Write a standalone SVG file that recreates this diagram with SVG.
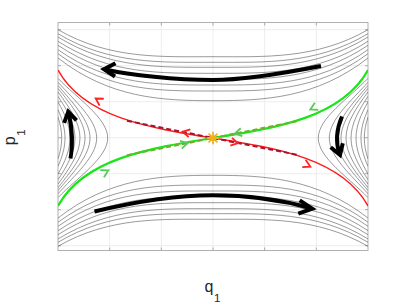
<svg xmlns="http://www.w3.org/2000/svg" xmlns:xlink="http://www.w3.org/1999/xlink" width="407" height="305" viewBox="0 0 407 305">
<style>
.grid{stroke:#e6e6e6;stroke-width:0.7;fill:none}
.tick{stroke:#9a9a9a;stroke-width:0.8;fill:none}
.frame{stroke:#a8a8a8;stroke-width:0.9;fill:none}
.cont path{stroke:#555;stroke-width:0.6;fill:none}
.sep{fill:none}
.red{stroke:#ff1a1a;stroke-width:1.5}
.green{stroke:#19e619;stroke-width:2.2}
.dred{stroke:#a2142f;stroke-width:2;stroke-dasharray:5,3;fill:none}
.dgreen{stroke:#77ac30;stroke-width:2;stroke-dasharray:5,3;fill:none}
.chr{stroke:#ff2020;stroke-width:1.8;fill:none;stroke-linejoin:miter}
.chg{stroke:#55cc55;stroke-width:1.8;fill:none;stroke-linejoin:miter}
.big{stroke:#000;stroke-width:4;fill:none;stroke-linejoin:miter}
.lbl{font-family:"Liberation Sans",Arial,sans-serif;fill:#262626}
</style>
<defs>
<path id="chev" d="M-7,-4 L0,0 L-7,4"/>
<clipPath id="box"><rect x="58" y="22.5" width="310" height="228"/></clipPath>
</defs>
<rect width="407" height="305" fill="#fff"/>
<g id="axes">
<path class="grid" d="M109.67,22.5V250.5M161.33,22.5V250.5M213,22.5V250.5M264.67,22.5V250.5M316.33,22.5V250.5M58,29.7H368M58,65.7H368M58,101.7H368M58,137.7H368M58,173.7H368M58,209.7H368M58,245.7H368"/>
<path class="tick" d="M109.67,250.5v-3M161.33,250.5v-3M213,250.5v-3M264.67,250.5v-3M316.33,250.5v-3M109.67,22.5v3M161.33,22.5v3M213,22.5v3M264.67,22.5v3M316.33,22.5v3M58,29.7h3M58,65.7h3M58,101.7h3M58,137.7h3M58,173.7h3M58,209.7h3M58,245.7h3M368,29.7h-3M368,65.7h-3M368,101.7h-3M368,137.7h-3M368,173.7h-3M368,209.7h-3M368,245.7h-3"/>
<rect class="frame" x="58" y="22.5" width="310" height="228"/>
</g>
<g id="contours" class="cont" clip-path="url(#box)">
<path d="M58,29.7 C109.67,59.4 161.33,56.7 213,56.7 C264.67,56.7 316.33,59.4 368,29.7"/>
<path d="M58,33.7 C109.67,64.6 161.33,62.3 213,62.3 C264.67,62.3 316.33,64.6 368,33.7"/>
<path d="M58,37 C109.67,68.9 161.33,67.3 213,67.3 C264.67,67.3 316.33,68.9 368,37"/>
<path d="M58,41.3 C109.67,74.6 161.33,73.3 213,73.3 C264.67,73.3 316.33,74.6 368,41.3"/>
<path d="M58,45.3 C109.67,80 161.33,79.5 213,79.5 C264.67,79.5 316.33,80 368,45.3"/>
<path d="M58,49.7 C109.67,86.2 161.33,85 213,85 C264.67,85 316.33,86.2 368,49.7"/>
<path d="M58,53.7 C109.67,91.9 161.33,91 213,91 C264.67,91 316.33,91.9 368,53.7"/>
<path d="M58,58 C109.67,98.2 161.33,100.7 213,100.7 C264.67,100.7 316.33,98.2 368,58"/>
<path d="M58,246.3 C109.67,216.6 161.33,219.3 213,219.3 C264.67,219.3 316.33,216.6 368,246.3"/>
<path d="M58,242.3 C109.67,211.4 161.33,213.7 213,213.7 C264.67,213.7 316.33,211.4 368,242.3"/>
<path d="M58,239 C109.67,207.1 161.33,208.7 213,208.7 C264.67,208.7 316.33,207.1 368,239"/>
<path d="M58,234.7 C109.67,201.4 161.33,202.7 213,202.7 C264.67,202.7 316.33,201.4 368,234.7"/>
<path d="M58,230.7 C109.67,196 161.33,196.5 213,196.5 C264.67,196.5 316.33,196 368,230.7"/>
<path d="M58,226.3 C109.67,189.8 161.33,191 213,191 C264.67,191 316.33,189.8 368,226.3"/>
<path d="M58,222.3 C109.67,184.1 161.33,185 213,185 C264.67,185 316.33,184.1 368,222.3"/>
<path d="M58,218 C109.67,177.8 161.33,175.3 213,175.3 C264.67,175.3 316.33,177.8 368,218"/>
<path d="M58,78.36 C77.03,98.24 107.7,118.12 107.7,138 C107.7,157.88 77.03,177.76 58,197.64"/>
<path d="M58,82.22 C74.65,100.81 96.7,119.41 96.7,138 C96.7,156.59 74.65,175.19 58,193.78"/>
<path d="M58,85.41 C72.8,102.94 90,120.47 90,138 C90,155.53 72.8,173.06 58,190.59"/>
<path d="M58,88.34 C71.19,104.89 85,121.45 85,138 C85,154.55 71.19,171.11 58,187.66"/>
<path d="M58,91.9 C69.37,107.27 80,122.63 80,138 C80,153.37 69.37,168.73 58,184.1"/>
<path d="M58,96.31 C67.3,110.21 75,124.1 75,138 C75,151.9 67.3,165.79 58,179.69"/>
<path d="M58,101.97 C64.94,113.98 70,125.99 70,138 C70,150.01 64.94,162.02 58,174.03"/>
<path d="M58,109.68 C62.29,119.12 65,128.56 65,138 C65,147.44 62.29,156.88 58,166.32"/>
<path d="M58,117.05 C60.35,124.03 61.7,131.02 61.7,138 C61.7,144.98 60.35,151.97 58,158.95"/>
<path d="M368,78.36 C348.97,98.24 318.3,118.12 318.3,138 C318.3,157.88 348.97,177.76 368,197.64"/>
<path d="M368,82.22 C351.35,100.81 329.3,119.41 329.3,138 C329.3,156.59 351.35,175.19 368,193.78"/>
<path d="M368,85.41 C353.2,102.94 336,120.47 336,138 C336,155.53 353.2,173.06 368,190.59"/>
<path d="M368,88.34 C354.81,104.89 341,121.45 341,138 C341,154.55 354.81,171.11 368,187.66"/>
<path d="M368,91.9 C356.63,107.27 346,122.63 346,138 C346,153.37 356.63,168.73 368,184.1"/>
<path d="M368,96.31 C358.7,110.21 351,124.1 351,138 C351,151.9 358.7,165.79 368,179.69"/>
<path d="M368,101.97 C361.06,113.98 356,125.99 356,138 C356,150.01 361.06,162.02 368,174.03"/>
<path d="M368,109.68 C363.71,119.12 361,128.56 361,138 C361,147.44 363.71,156.88 368,166.32"/>
<path d="M368,117.05 C365.65,124.03 364.3,131.02 364.3,138 C364.3,144.98 365.65,151.97 368,158.95"/>
</g>
<g id="manifolds" clip-path="url(#box)">
<path id="stable" class="sep green" d="M58,206 C109.67,111.35 316.33,164.65 368,70"/>
<path id="unstable" class="sep red" d="M58,70 C109.67,164.65 316.33,111.35 368,206"/>
<path id="eig-unstable" class="dred" d="M127,120.8 L299.7,155.3"/>
<path id="eig-stable" class="dgreen" d="M127,155.2 L299.7,120.7"/>
</g>
<g id="connectors">
<use xlink:href="#chev" class="chr" transform="translate(95.7,98.5) rotate(211.4)"/>
<use xlink:href="#chev" class="chr" transform="translate(182.7,131.7) rotate(192.8)"/>
<use xlink:href="#chev" class="chr" transform="translate(238,143.2) rotate(12.3)"/>
<use xlink:href="#chev" class="chr" transform="translate(310.3,166.6) rotate(25.7)"/>
<use xlink:href="#chev" class="chg" transform="translate(108.3,170.4) rotate(-27.8)"/>
<use xlink:href="#chev" class="chg" transform="translate(187.7,143.2) rotate(-12.3)"/>
<use xlink:href="#chev" class="chg" transform="translate(234.7,133.6) rotate(167.9)"/>
<use xlink:href="#chev" class="chg" transform="translate(310.3,109.4) rotate(154.3)"/>
<g id="flow-top"><path class="big" d="M321,66 C280,74 240,80 213,80 C175,80 130,75 105,69.5"/><path class="big" d="M115.5,63.3 L104,69.3 L115,76.5"/></g>
<g id="flow-bottom"><path class="big" d="M94.5,211.5 C130,203 175,195.3 213,195.3 C250,195.3 285,201 311,208.3"/><path class="big" d="M299.7,200.3 L312.3,208.7 L298.3,213.7"/></g>
<g id="flow-left"><path class="big" d="M70.5,158.5 C72.5,148 72.5,130 68.8,113"/><path class="big" d="M64.1,122.9 L68.3,111.7 L76.5,120.4"/></g>
<g id="flow-right"><path class="big" d="M342,116.5 C337,128 335.5,142 339.5,154"/><path class="big" d="M342.8,143.3 L340,155 L330.7,147.3"/></g>
</g>
<g id="saddle" stroke="#edb120" stroke-width="1.8" stroke-linecap="round">
<path d="M207.5,138H218.5M213,132.5V143.5M209.1,134.1L216.9,141.9M209.1,141.9L216.9,134.1"/>
</g>
<g id="labels">
<text class="lbl" x="204.5" y="291.6" font-size="16">q<tspan font-size="11.5" dx="0.5" dy="10">1</tspan></text>
<text class="lbl" transform="translate(14.5,145.2) rotate(-90)" font-size="16">p<tspan font-size="11.5" dx="0.5" dy="10">1</tspan></text>
</g>
</svg>
